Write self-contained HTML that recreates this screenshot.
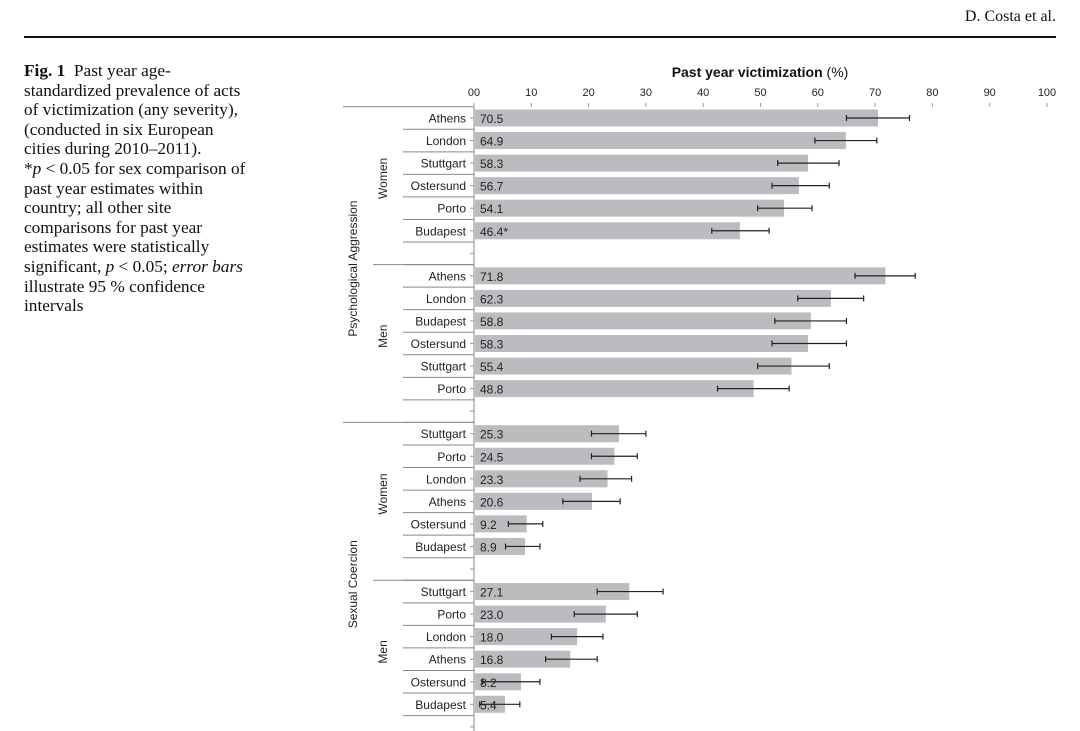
<!DOCTYPE html>
<html><head><meta charset="utf-8"><style>
body{margin:0;background:#fff;width:1080px;height:731px;overflow:hidden;position:relative}
.cap{position:absolute;left:24px;top:61px;white-space:nowrap;font:17.3px/19.6px "Liberation Serif",serif;color:#111}
.hdr{position:absolute;right:24px;top:8px;font:16px "Liberation Serif",serif;color:#111}
.rule{position:absolute;left:24px;top:36px;width:1032px;height:2px;background:#111}
svg{position:absolute;left:0;top:0}
</style></head><body>
<div class="hdr">D. Costa et al.</div>
<div class="rule"></div>
<div class="cap"><b>Fig. 1</b>&nbsp; Past year age-<br>standardized prevalence of acts<br>of victimization (any severity),<br>(conducted in six European<br>cities during 2010–2011).<br>*<i>p</i> &lt; 0.05 for sex comparison of<br>past year estimates within<br>country; all other site<br>comparisons for past year<br>estimates were statistically<br>significant, <i>p</i> &lt; 0.05; <i>error bars</i><br>illustrate 95 % confidence<br>intervals</div>
<svg id="chart" width="1080" height="731"></svg>
<script>
const cities=["Athens","London","Stuttgart","Ostersund","Porto","Budapest","","Athens","London","Budapest","Ostersund","Stuttgart","Porto","","Stuttgart","Porto","London","Athens","Ostersund","Budapest","","Stuttgart","Porto","London","Athens","Ostersund","Budapest",""];
const values=[70.5,64.9,58.3,56.7,54.1,46.4,null,71.8,62.3,58.8,58.3,55.4,48.8,null,25.3,24.5,23.3,20.6,9.2,8.9,null,27.1,23.0,18.0,16.8,8.2,5.4,null];
const labels=["70.5","64.9","58.3","56.7","54.1","46.4*","","71.8","62.3","58.8","58.3","55.4","48.8","","25.3","24.5","23.3","20.6","9.2","8.9","","27.1","23.0","18.0","16.8","8.2","5.4",""];
const ciLow=[65,59.5,53,52,49.5,41.5,null,66.5,56.5,52.5,52,49.5,42.5,null,20.5,20.5,18.5,15.5,6,5.5,null,21.5,17.5,13.5,12.5,1.5,1,null];
const ciHigh=[76,70.3,63.7,62,59,51.5,null,77,68,65,65,62,55,null,30,28.5,27.5,25.5,12,11.5,null,33,28.5,22.5,21.5,11.5,8,null];
const ticks=[0,10,20,30,40,50,60,70,80,90,100];
const tickLabels=["00","10","20","30","40","50","60","70","80","90","100"];
const NS="http://www.w3.org/2000/svg",svg=document.getElementById("chart");
const X0=474,X1=1047,Y0=118,DY=22.55;
const x=v=>X0+(X1-X0)*v/100, y=i=>Y0+DY*i;
function el(t,a,txt){const e=document.createElementNS(NS,t);for(const k in a)e.setAttribute(k,a[k]);if(txt!=null)e.textContent=txt;svg.appendChild(e);return e;}
const F='"Liberation Sans","DejaVu Sans",sans-serif';
let t=el("text",{x:760,y:77,"font-family":F,"font-size":14,"font-weight":"bold","text-anchor":"middle",fill:"#111"},"Past year victimization ");


const sp=document.createElementNS(NS,"tspan");sp.setAttribute("font-weight","normal");sp.textContent="(%)";t.appendChild(sp);
ticks.forEach((v,i)=>{
 const tl=el("text",{x:x(v),y:96,"font-family":F,"font-size":11,"text-anchor":"middle",fill:"#222"},tickLabels[i]);
 
 
 el("line",{x1:x(v),x2:x(v),y1:103,y2:107,stroke:"#999"});
});
const ax=el("line",{x1:X0,x2:X0,y1:107,y2:731,stroke:"#888","stroke-width":1});


cities.forEach((c,i)=>{
 const cy=y(i);
 el("line",{x1:X0-4,x2:X0,y1:cy,y2:cy,stroke:"#999"});
 el("line",{x1:403,x2:X0,y1:cy+DY/2,y2:cy+DY/2,stroke:"#888"});
 if(values[i]==null)return;
 const b=el("rect",{x:X0+1,y:cy-8.5,width:x(values[i])-X0-1,height:17,fill:"#bdbbbf"});
 
 
 const lb=el("text",{x:466,y:cy+4.5,"font-family":F,"font-size":12,"text-anchor":"end",fill:"#222"},c);
 
 
 const vl=el("text",{x:480,y:cy+5,"font-family":F,"font-size":12,fill:"#222"},labels[i]);
 
 
 const g=el("g",{stroke:"#222","stroke-width":1.2});
 
 
 [["line",{x1:x(ciLow[i]),x2:x(ciHigh[i]),y1:cy,y2:cy}],["line",{x1:x(ciLow[i]),x2:x(ciLow[i]),y1:cy-3,y2:cy+3}],["line",{x1:x(ciHigh[i]),x2:x(ciHigh[i]),y1:cy-3,y2:cy+3}]].forEach(([tg,a])=>{const l=document.createElementNS(NS,tg);for(const k in a)l.setAttribute(k,a[k]);g.appendChild(l);});
});
el("line",{x1:343,x2:X0,y1:y(-0.5),y2:y(-0.5),stroke:"#888"});
el("line",{x1:373,x2:X0,y1:y(6.5),y2:y(6.5),stroke:"#888"});
el("line",{x1:343,x2:X0,y1:y(13.5),y2:y(13.5),stroke:"#888"});
el("line",{x1:373,x2:X0,y1:y(20.5),y2:y(20.5),stroke:"#888"});
function vt(txt,cx,cy,name){const e=el("text",{x:0,y:0,transform:`translate(${cx},${cy}) rotate(-90)`,"font-family":F,"font-size":12,"text-anchor":"middle",fill:"#222"},txt);}
vt("Psychological Aggression",357,y(6.5)+4,"group-label-psych");
vt("Sexual Coercion",357,y(20.5)+4,"group-label-sexual");
vt("Women",387,y(2.5)+4,"gender-label");
vt("Men",387,y(9.5)+4,"gender-label");
vt("Women",387,y(16.5)+4,"gender-label");
vt("Men",387,y(23.5)+4,"gender-label");
</script>
</body></html>
